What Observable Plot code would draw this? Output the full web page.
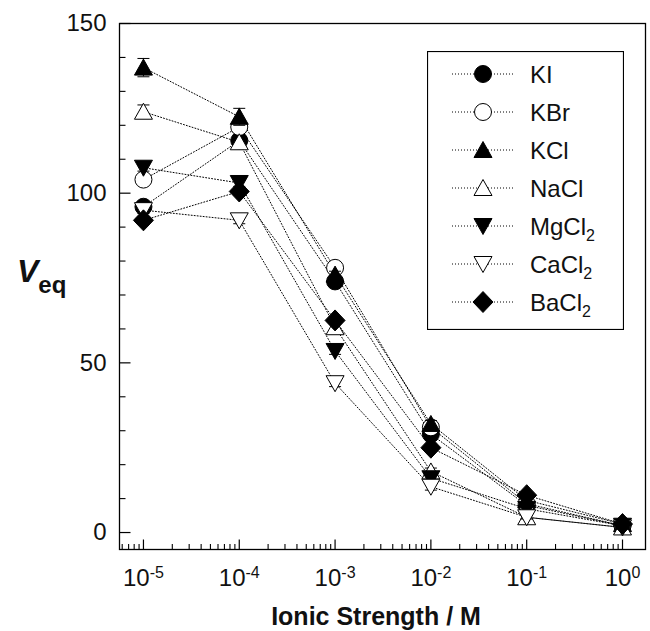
<!DOCTYPE html>
<html><head><meta charset="utf-8">
<script src="https://cdn.jsdelivr.net/npm/d3@7"></script>
<script src="https://cdn.jsdelivr.net/npm/@observablehq/plot@0.6"></script>
<style>
body{margin:0;background:#fff;}
#wrap{position:relative;width:650px;height:631px;font-family:"Liberation Sans",Arial,sans-serif;}
#legend{position:absolute;left:427px;top:51px;}
</style></head><body><div id="wrap"></div>
<script>
// ---- data ----
const ionicStrength = [1e-5, 1e-4, 1e-3, 1e-2, 1e-1, 1];
const seriesNames = ["KI", "KBr", "KCl", "NaCl", "MgCl2", "CaCl2", "BaCl2"];
const seriesLabelMain = ["KI", "KBr", "KCl", "NaCl", "MgCl", "CaCl", "BaCl"];
const seriesLabelSub = ["", "", "", "", "2", "2", "2"];
const vKI    = [96, 115.5, 74, 29, 8, 2];
const vKBr   = [104, 119.5, 78, 31, 8.5, 2];
const vKCl   = [137, 122.5, 76, 32, 9.5, 2.5];
const vNaCl  = [124, 115, 60.5, 18, 4.5, 1.5];
const vMgCl2 = [107.5, 103, 53.5, 16, 7, 2];
const vCaCl2 = [95, 92, 44, 13.5, 4.5, 1.5];
const vBaCl2 = [92, 100.5, 62.5, 25, 11, 2.5];
const eKI    = [1, 1, 1, 1, 0.5, 0.5];
const eKBr   = [1, 1, 1, 1, 0.5, 0.5];
const eKCl   = [2.7, 2.5, 1, 1, 0.5, 0.5];
const eNaCl  = [2, 1, 1, 1, 0.5, 0.5];
const eMgCl2 = [1, 1, 1, 1, 0.5, 0.5];
const eCaCl2 = [1, 1, 1, 1, 0.5, 0.5];
const eBaCl2 = [1, 1, 1, 1, 0.5, 0.5];
const xTickValues = [1e-5, 1e-4, 1e-3, 1e-2, 1e-1, 1];
const xTickExponents = ["-5", "-4", "-3", "-2", "-1", "0"];
const xMinorMultipliers = [2, 3, 4, 5, 6, 7, 8, 9];
const xMinorDecades = [1e-6, 1e-5, 1e-4, 1e-3, 1e-2, 1e-1];
const yTickValues = [0, 50, 100, 150];
const yMinorTicks = [10, 20, 30, 40, 60, 70, 80, 90, 110, 120, 130, 140];

const values = [vKI, vKBr, vKCl, vNaCl, vMgCl2, vCaCl2, vBaCl2];
const errors = [eKI, eKBr, eKCl, eNaCl, eMgCl2, eCaCl2, eBaCl2];

// ---- symbols ----
const f = s => Math.sqrt(s / Math.PI) / 8.5;
const symCircle = {draw(c, s) { const r = Math.sqrt(s / Math.PI); c.moveTo(r, 0); c.arc(0, 0, r, 0, 2 * Math.PI); c.closePath(); }};
const symUp = {draw(c, s) { const k = f(s); c.moveTo(0, -8.5 * k); c.lineTo(9 * k, 7.5 * k); c.lineTo(-9 * k, 7.5 * k); c.closePath(); }};
const symDown = {draw(c, s) { const k = f(s); c.moveTo(0, 8.5 * k); c.lineTo(9 * k, -7.5 * k); c.lineTo(-9 * k, -7.5 * k); c.closePath(); }};
const symDiamond = {draw(c, s) { const k = f(s); c.moveTo(0, -10.5 * k); c.lineTo(10 * k, 0); c.lineTo(0, 10.5 * k); c.lineTo(-10 * k, 0); c.closePath(); }};
const symCap = {draw(c) { c.moveTo(-6, 0); c.lineTo(6, 0); }};
const vTick = len => ({draw(c) { c.moveTo(0, 0); c.lineTo(0, -len); }});
const hTick = len => ({draw(c) { c.moveTo(0, 0); c.lineTo(len, 0); }});

const seriesSymbols = [symCircle, symCircle, symUp, symUp, symDown, symDown, symDiamond];
const seriesFills = ["black", "white", "black", "white", "black", "white", "black"];

const rows = [];
seriesNames.forEach((s, i) => ionicStrength.forEach((x, j) => rows.push({series: s, x, v: values[i][j], err: errors[i][j]})));
const xMinor = [];
xMinorDecades.forEach(d => xMinorMultipliers.forEach(m => xMinor.push(d * m)));

const xDomain = [Math.pow(10, -5.25), Math.pow(10, 0.24)];
const xMinorIn = xMinor.filter(v => v >= xDomain[0] && v <= xDomain[1]);

const XTICK_FILL = "#101011";
const marks = [
  Plot.frame({stroke: "black", strokeWidth: 1.3}),
  Plot.dot(xTickValues, {x: d => d, frameAnchor: "bottom", symbol: vTick(10), stroke: "black", fill: "none", strokeWidth: 1.2}),
  Plot.dot(xMinorIn, {x: d => d, frameAnchor: "bottom", symbol: vTick(5.5), stroke: "black", fill: "none", strokeWidth: 1.1}),
  Plot.dot(yTickValues, {y: d => d, frameAnchor: "left", symbol: hTick(11), stroke: "black", fill: "none", strokeWidth: 1.2}),
  Plot.dot(yMinorTicks, {y: d => d, frameAnchor: "left", symbol: hTick(6), stroke: "black", fill: "none", strokeWidth: 1.1}),
  Plot.text(yTickValues, {y: d => d, frameAnchor: "left", text: d => String(d), textAnchor: "end", dx: -13, fontSize: 24, fill: "#111"}),
  Plot.text(xTickValues, {x: d => d, frameAnchor: "bottom", text: (d, i) => xTickExponents[i], textAnchor: "middle", lineAnchor: "top", dy: 19, fontSize: 24, fill: XTICK_FILL}),
  Plot.line(rows, {x: "x", y: "v", z: "series", stroke: "black", strokeWidth: 1, strokeDasharray: "1,2"})
];
seriesNames.forEach((s, i) => {
  const d = rows.filter(r => r.series === s);
  marks.push(Plot.ruleX(d, {x: "x", y1: r => r.v - r.err, y2: r => r.v + r.err, stroke: "black", strokeWidth: 1}));
  marks.push(Plot.dot(d, {x: "x", y: r => r.v + r.err, symbol: symCap, r: 8.5, stroke: "black", fill: "none", strokeWidth: 1}));
  marks.push(Plot.dot(d, {x: "x", y: r => r.v - r.err, symbol: symCap, r: 8.5, stroke: "black", fill: "none", strokeWidth: 1}));
  marks.push(Plot.dot(d, {x: "x", y: "v", symbol: seriesSymbols[i], r: 8.5, fill: seriesFills[i], stroke: "black", strokeWidth: 1}));
});

const chart = Plot.plot({
  width: 650, height: 631,
  marginLeft: 119, marginRight: 5, marginTop: 23, marginBottom: 82,
  style: {fontFamily: '"Liberation Sans", Arial, sans-serif', fontSize: "24px", color: "#000", background: "white", overflow: "visible"},
  x: {type: "log", domain: xDomain, axis: null},
  y: {domain: [-5, 150], axis: null},
  marks
});
document.getElementById("wrap").appendChild(chart);

const svgNode = chart.tagName.toLowerCase() === "svg" ? chart : chart.querySelector("svg");
const svg = d3.select(svgNode);
// superscript tick labels
svg.selectAll("text").filter(function () {
  const g = this.closest("g");
  return g && g.getAttribute("fill") === XTICK_FILL;
}).each(function () {
  const exp = this.textContent;
  const t = d3.select(this);
  t.text("10");
  t.append("tspan").attr("font-size", 16).attr("dy", "-0.5em").text(exp);
  t.attr("fill", "#111");
});
// axis titles
const yt = svg.append("text").attr("x", 17).attr("y", 282).attr("fill", "#111").attr("text-anchor", "start")
  .style("font-family", '"Liberation Sans", Arial, sans-serif').style("font-weight", "bold");
yt.append("tspan").attr("font-size", 32).style("font-style", "italic").text("V");
yt.append("tspan").attr("font-size", 24).attr("dy", 11).text("eq");
svg.append("text").attr("x", 376).attr("y", 625).attr("text-anchor", "middle").attr("fill", "#111")
  .attr("font-size", 25).style("font-weight", "bold").style("font-family", '"Liberation Sans", Arial, sans-serif')
  .text("Ionic Strength / M");

// legend
const lg = d3.select("#wrap").append("svg").attr("id", "legend").attr("width", 197).attr("height", 279);
lg.append("rect").attr("x", 0.5).attr("y", 0.5).attr("width", 196).attr("height", 278).attr("fill", "white").attr("stroke", "black").attr("stroke-width", 1.2);
seriesNames.forEach((s, i) => {
  const cy = 23 + i * 38;
  lg.append("line").attr("x1", 25).attr("x2", 87).attr("y1", cy).attr("y2", cy).attr("stroke", "black").attr("stroke-dasharray", "1,2");
  const p = d3.path();
  seriesSymbols[i].draw(p, Math.PI * 8.5 * 8.5);
  lg.append("path").attr("d", p.toString()).attr("transform", `translate(56,${cy})`).attr("fill", seriesFills[i]).attr("stroke", "black");
  const t = lg.append("text").attr("x", 103).attr("y", cy + 9).attr("font-size", 24).attr("fill", "#111")
    .style("font-family", '"Liberation Sans", Arial, sans-serif');
  t.append("tspan").text(seriesLabelMain[i]);
  if (seriesLabelSub[i]) t.append("tspan").attr("font-size", 16).attr("dy", 6).text(seriesLabelSub[i]);
});
</script></body></html>
